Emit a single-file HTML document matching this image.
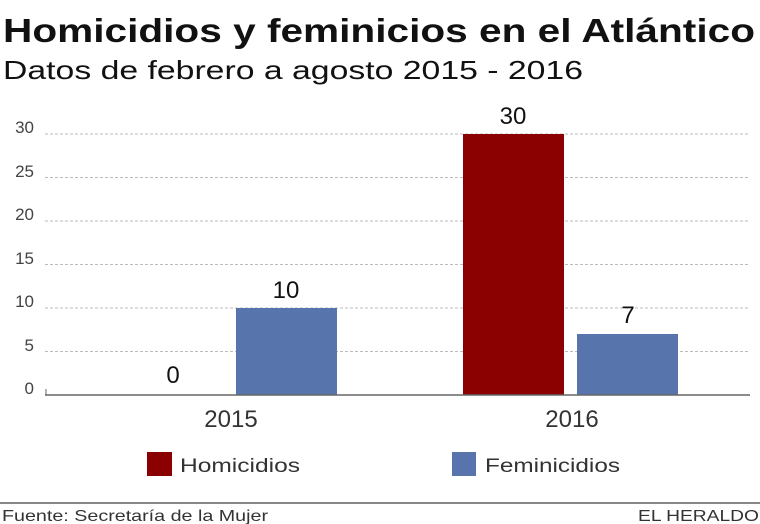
<!DOCTYPE html>
<html><head><meta charset="utf-8"><style>
html,body{margin:0;padding:0;background:#fff;}
svg{display:block;font-family:"Liberation Sans",sans-serif;}
</style></head><body>
<svg width="760" height="524" viewBox="0 0 760 524" xmlns="http://www.w3.org/2000/svg">
<text x="3" y="42" font-size="33" font-weight="bold" fill="#111" textLength="752" lengthAdjust="spacingAndGlyphs">Homicidios y feminicios en el Atlántico</text>
<text x="3" y="79" font-size="26" fill="#111" textLength="580" lengthAdjust="spacingAndGlyphs">Datos de febrero a agosto 2015 - 2016</text>
<g stroke="#bbb" stroke-width="1" stroke-dasharray="3,2">
<line x1="45" y1="134" x2="750" y2="134"/>
<line x1="45" y1="177.5" x2="750" y2="177.5"/>
<line x1="45" y1="221" x2="750" y2="221"/>
<line x1="45" y1="264.5" x2="750" y2="264.5"/>
<line x1="45" y1="308" x2="750" y2="308"/>
<line x1="45" y1="351.5" x2="750" y2="351.5"/>
</g>
<g font-size="17" fill="#444" text-anchor="end">
<text x="34" y="133">30</text><text x="34" y="177">25</text><text x="34" y="220">20</text>
<text x="34" y="264">15</text><text x="34" y="307">10</text><text x="34" y="351">5</text><text x="34" y="394">0</text>
</g>
<rect x="236" y="308" width="101" height="87" fill="#5874ad"/>
<rect x="463" y="134" width="101" height="261" fill="#8b0000"/>
<rect x="577" y="334" width="101" height="61" fill="#5874ad"/>
<line x1="45" y1="395" x2="750" y2="395" stroke="#666" stroke-width="1.5"/>
<line x1="46" y1="389" x2="46" y2="395" stroke="#666" stroke-width="1"/>
<g font-size="24" fill="#111" text-anchor="middle">
<text x="173" y="383">0</text><text x="286" y="298">10</text>
<text x="513" y="124">30</text><text x="628" y="323">7</text>
</g>
<g font-size="24" fill="#333" text-anchor="middle">
<text x="231" y="427">2015</text><text x="572" y="427">2016</text>
</g>
<rect x="147" y="452" width="25" height="24" fill="#8b0000"/>
<text x="180" y="472" font-size="19" fill="#333" textLength="120" lengthAdjust="spacingAndGlyphs">Homicidios</text>
<rect x="452" y="452" width="24" height="24" fill="#5874ad"/>
<text x="485" y="472" font-size="19" fill="#333" textLength="135" lengthAdjust="spacingAndGlyphs">Feminicidios</text>
<line x1="0" y1="503" x2="760" y2="503" stroke="#888" stroke-width="2"/>
<text x="2" y="521" font-size="16" fill="#333" textLength="266" lengthAdjust="spacingAndGlyphs">Fuente: Secretaría de la Mujer</text>
<text x="638" y="521" font-size="16" fill="#333" textLength="121" lengthAdjust="spacingAndGlyphs">EL HERALDO</text>
</svg>
</body></html>
